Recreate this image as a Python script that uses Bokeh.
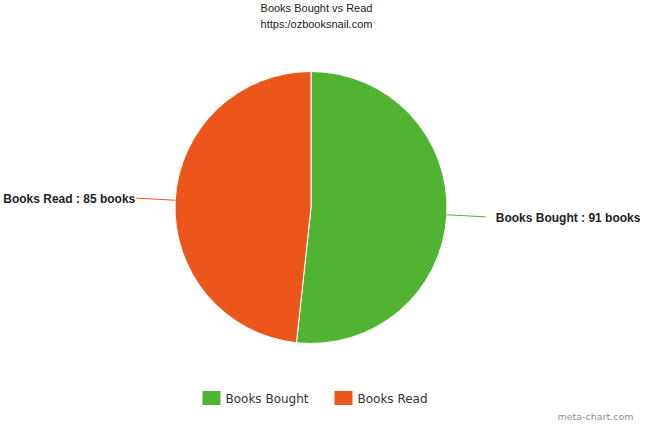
import math
from bokeh.plotting import figure
from bokeh.models import Range1d, ColumnDataSource
from bokeh.core.properties import value
from bokeh.embed import file_html
from bokeh.resources import INLINE

# ---- data ----
categories = ["Books Bought", "Books Read"]
books = [91, 85]
colors = ["#50B432", "#ED561B"]
title_text = "Books Bought vs Read"
subtitle_text = "https:/ozbooksnail.com"
credit_text = "meta-chart.com"

# ---- layout (data coords == reference pixels, y flipped via Y()) ----
W, H = 640, 421
def Y(ref_y):
    return 437 - ref_y

X0, YTOP = 12, 9
p = figure(width=W, height=H, output_backend="svg", toolbar_location=None,
           x_range=Range1d(X0, X0 + W), y_range=Range1d(Y(YTOP + H), Y(YTOP)),
           min_border=0, min_border_left=0, min_border_right=0,
           min_border_top=0, min_border_bottom=0)
p.axis.visible = False
p.grid.visible = False
p.outline_line_color = None
p.background_fill_color = "white"
p.border_fill_color = "white"

cx, cy, r = 322.5, Y(216), 136
total = float(sum(books))
starts, ends, mids = [], [], []
cum = 0.0
for v in books:
    a0 = math.pi / 2 - 2 * math.pi * cum / total
    cum += v
    a1 = math.pi / 2 - 2 * math.pi * cum / total
    starts.append(a0); ends.append(a1); mids.append((a0 + a1) / 2)

src = ColumnDataSource(dict(cat=categories, val=books, color=colors,
                            start=starts, end=ends))
p.wedge(x=cx, y=cy, radius=r, radius_units="screen", start_angle="start",
        end_angle="end", direction="clock", fill_color="color",
        line_color="white", line_width=1, source=src)

# connectors and data labels
lab_font = value("Liberation Sans")
for cat, v, col, m in zip(categories, books, colors, mids):
    c, s = math.cos(m), math.sin(m)
    x0, y0 = cx + r * c, cy + r * s
    x1, y1 = cx + (r + 39) * c, cy + (r + 39) * s
    p.line([x0, x1], [y0, y1], line_color=col, line_width=1)
    txt = f"{cat} : {v} books"
    if c >= 0:
        p.text([x1 + 10], [y1 - 1], text=[txt], text_align="left",
               text_baseline="middle", text_font=lab_font,
               text_font_size="12px", text_font_style="bold", text_color="#222222")
    else:
        p.text([x1 - 1], [y1 - 1], text=[txt], text_align="right",
               text_baseline="middle", text_font=lab_font,
               text_font_size="12px", text_font_style="bold", text_color="#222222")

# title & subtitle
p.text([328], [Y(16)], text=[title_text], text_align="center", text_baseline="middle",
       text_font=value("Liberation Sans"), text_font_size="11px", text_color="#222222")
p.text([328], [Y(32)], text=[subtitle_text], text_align="center", text_baseline="middle",
       text_font=value("Liberation Sans"), text_font_size="11px", text_color="#222222")

# legend (manual)
leg_x = [214, 346]
for lx, cat, col in zip(leg_x, categories, colors):
    p.quad(left=[lx], right=[lx + 18], bottom=[Y(413.5)], top=[Y(399.5)],
           fill_color=col, line_color=None)
    p.text([lx + 23], [Y(407)], text=[cat], text_align="left", text_baseline="middle",
           text_font=value("DejaVu Sans"), text_font_size="12px", text_color="#333333")

# credit
p.text([645], [Y(425)], text=[credit_text], text_align="right", text_baseline="middle",
       text_font=value("DejaVu Sans"), text_font_size="9.5px", text_color="#909090")

open("out.html", "w").write(file_html(p, INLINE))
